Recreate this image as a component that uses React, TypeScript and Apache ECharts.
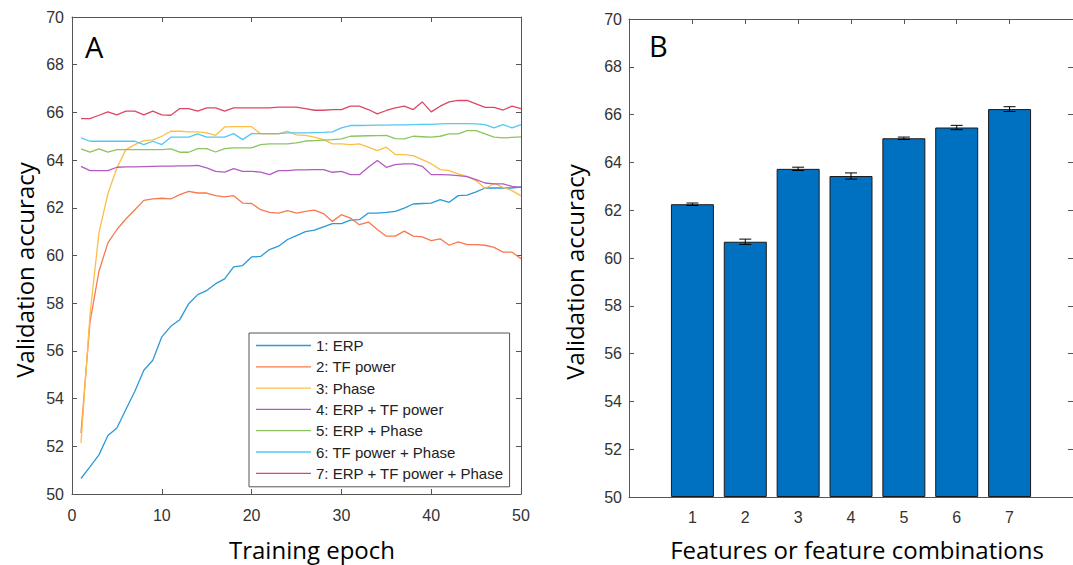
import React, { useEffect, useRef } from "react";
import * as echarts from "echarts";

const epochs = [1,2,3,4,5,6,7,8,9,10,11,12,13,14,15,16,17,18,19,20,21,22,23,24,25,26,27,28,29,30,31,32,33,34,35,36,37,38,39,40,41,42,43,44,45,46,47,48,49,50];

const seriesNames = [
  "1: ERP",
  "2: TF power",
  "3: Phase",
  "4: ERP + TF power",
  "5: ERP + Phase",
  "6: TF power + Phase",
  "7: ERP + TF power + Phase",
];

const erp = [50.65,51.14,51.64,52.45,52.77,53.54,54.31,55.19,55.61,56.59,57.03,57.31,57.98,58.36,58.53,58.82,59.02,59.52,59.58,59.94,59.96,60.25,60.39,60.67,60.83,61.0,61.06,61.2,61.34,61.34,61.48,61.5,61.78,61.78,61.81,61.85,61.99,62.16,62.18,62.2,62.34,62.23,62.51,62.53,62.67,62.83,62.83,62.83,62.83,62.88];
const tfPower = [52.56,57.2,59.34,60.53,61.09,61.53,61.92,62.31,62.37,62.4,62.37,62.55,62.69,62.62,62.62,62.51,62.46,62.51,62.2,62.18,61.92,61.81,61.78,61.88,61.78,61.85,61.9,61.76,61.43,61.71,61.57,61.29,61.4,61.09,60.81,60.81,61.02,60.81,60.78,60.62,60.7,60.43,60.57,60.46,60.46,60.43,60.34,60.14,60.14,59.87];
const phase = [52.14,57.5,60.95,62.6,63.67,64.44,64.65,64.82,64.85,65.0,65.21,65.21,65.18,65.18,65.14,65.04,65.39,65.4,65.4,65.4,65.1,65.1,65.1,65.21,65.06,65.04,64.96,64.86,64.68,64.68,64.65,64.68,64.54,64.4,64.54,64.23,64.23,64.19,64.02,63.85,63.6,63.56,63.42,63.32,63.14,62.81,63.02,62.86,62.72,62.5];
const erpTf = [63.74,63.56,63.56,63.56,63.7,63.72,63.72,63.73,63.74,63.75,63.75,63.76,63.76,63.78,63.67,63.53,63.5,63.64,63.53,63.53,63.5,63.39,63.56,63.56,63.59,63.59,63.6,63.6,63.49,63.53,63.39,63.39,63.7,63.98,63.7,63.81,63.84,63.84,63.74,63.39,63.39,63.38,63.35,63.31,63.18,63.04,63.0,63.0,62.9,62.86];
const erpPhase = [64.47,64.33,64.47,64.33,64.44,64.44,64.44,64.44,64.44,64.44,64.47,64.33,64.33,64.48,64.48,64.34,64.48,64.51,64.51,64.51,64.65,64.68,64.68,64.68,64.72,64.8,64.82,64.84,64.86,64.89,65.0,65.01,65.02,65.03,65.04,64.9,64.89,65.0,64.98,64.96,65.0,65.1,65.1,65.24,65.24,65.1,64.96,64.93,64.95,64.97];
const tfPhase = [64.93,64.79,64.79,64.79,64.79,64.79,64.79,64.65,64.79,64.65,64.96,64.96,64.96,65.1,64.96,64.96,64.96,65.11,64.86,65.11,65.11,65.11,65.11,65.14,65.14,65.14,65.15,65.16,65.18,65.35,65.45,65.45,65.46,65.47,65.47,65.48,65.48,65.49,65.5,65.5,65.52,65.53,65.53,65.53,65.52,65.49,65.35,65.49,65.35,65.49];
const allThree = [65.74,65.74,65.88,66.02,65.9,66.05,66.05,65.9,66.05,65.9,65.88,66.16,66.16,66.05,66.19,66.19,66.05,66.19,66.19,66.19,66.19,66.19,66.22,66.22,66.22,66.16,66.09,66.09,66.12,66.12,66.26,66.26,66.12,65.94,66.08,66.19,66.26,66.12,66.44,66.02,66.26,66.44,66.5,66.5,66.36,66.21,66.21,66.1,66.26,66.16];

const lineValues = [erp, tfPower, phase, erpTf, erpPhase, tfPhase, allThree];
const lineColors = ["#2A9AD8", "#F7794F", "#FDBE48", "#B25CC2", "#8BC55F", "#52C8F2", "#DC4764"];

const barCategories = [1, 2, 3, 4, 5, 6, 7];
const barMeans = [62.25, 60.68, 63.73, 63.43, 65.01, 65.46, 66.23];
const barErrors = [0.05, 0.11, 0.07, 0.13, 0.05, 0.09, 0.1];

const yTicks = [50, 70, 2];
const epochTicks = [0, 50, 10];

const AXIS = "#555555";
const LABEL = "#333333";
const TICK_FONT = "Liberation Sans";
const TITLE_FONT = '"Open Sans"';

function frameAxis(extra: any) {
  return {
    axisLine: { show: true, onZero: false, lineStyle: { color: AXIS, width: 1 } },
    axisTick: { show: true, inside: true, length: 5, lineStyle: { color: AXIS } },
    splitLine: { show: false },
    ...extra,
  };
}

export default function App() {
  const ref = useRef<HTMLDivElement>(null);
  useEffect(() => {
    if (!ref.current) return;
    const chart = echarts.init(ref.current, undefined, { renderer: "svg" });
    const labelStyle = { color: LABEL, fontSize: 16, fontFamily: TICK_FONT };

    const lineSeries = lineValues.map((vals, i) => ({
      name: seriesNames[i],
      type: "line",
      xAxisIndex: 0,
      yAxisIndex: 0,
      symbol: "none",
      showSymbol: false,
      data: epochs.map((e, j) => [e, vals[j]]),
      lineStyle: { color: lineColors[i], width: 1.3 },
      itemStyle: { color: lineColors[i] },
      z: 2 + i,
    }));

    const option: any = {
      animation: false,
      backgroundColor: "#ffffff",
      grid: [
        { left: 72, top: 17, width: 449, height: 477 },
        { left: 629, top: 19, width: 449, height: 478 },
      ],
      xAxis: [
        frameAxis({
          gridIndex: 0, type: "value", position: "bottom",
          min: epochTicks[0], max: epochTicks[1], interval: epochTicks[2],
          axisLabel: { ...labelStyle, margin: 13 },
        }),
        frameAxis({
          gridIndex: 0, type: "value", position: "top",
          min: epochTicks[0], max: epochTicks[1], interval: epochTicks[2],
          axisLabel: { show: false },
        }),
        frameAxis({
          gridIndex: 1, type: "value", position: "bottom",
          min: -0.2, max: 8.2,
          axisLabel: { ...labelStyle, margin: 12, customValues: barCategories },
          axisTick: { show: true, inside: true, length: 5, lineStyle: { color: AXIS }, customValues: barCategories },
        }),
        frameAxis({
          gridIndex: 1, type: "value", position: "top",
          min: -0.2, max: 8.2,
          axisLabel: { show: false, customValues: barCategories },
          axisTick: { show: true, inside: true, length: 5, lineStyle: { color: AXIS }, customValues: barCategories },
        }),
      ],
      yAxis: [
        frameAxis({
          gridIndex: 0, type: "value", position: "left",
          min: yTicks[0], max: yTicks[1], interval: yTicks[2],
          axisLabel: { ...labelStyle, margin: 8 },
        }),
        frameAxis({
          gridIndex: 0, type: "value", position: "right",
          min: yTicks[0], max: yTicks[1], interval: yTicks[2],
          axisLabel: { show: false },
        }),
        frameAxis({
          gridIndex: 1, type: "value", position: "left",
          min: yTicks[0], max: yTicks[1], interval: yTicks[2],
          startValue: yTicks[0],
          axisLabel: { ...labelStyle, margin: 7 },
        }),
        frameAxis({
          gridIndex: 1, type: "value", position: "right",
          min: yTicks[0], max: yTicks[1], interval: yTicks[2],
          axisLabel: { show: false },
        }),
      ],
      legend: {
        data: seriesNames,
        orient: "vertical",
        left: 249,
        top: 333,
        icon: "path://M0,0 L55,0 L55,1.3 L0,1.3 Z",
        itemWidth: 55,
        itemHeight: 14,
        itemGap: 6.3,
        selectedMode: false,
        backgroundColor: "#ffffff",
        borderColor: "#555555",
        borderWidth: 1,
        borderRadius: 0,
        padding: [5, 6, 6, 7],
        textStyle: { color: "#222222", fontSize: 15, fontFamily: TICK_FONT },
        z: 20,
      },
      series: [
        ...lineSeries,
        {
          name: "bars",
          type: "bar",
          xAxisIndex: 2,
          yAxisIndex: 2,
          barWidth: 43,
          clip: true,
          data: barCategories.map((c, i) => [c, barMeans[i]]),
          itemStyle: { color: "#0070C0", borderColor: "#1a1a1a", borderWidth: 1 },
          z: 2,
        },
        {
          name: "errors",
          type: "custom",
          xAxisIndex: 2,
          yAxisIndex: 2,
          data: barCategories.map((c, i) => [c, barMeans[i] - barErrors[i], barMeans[i] + barErrors[i]]),
          renderItem: (params: any, api: any) => {
            const x = api.value(0);
            const lo = api.coord([x, api.value(1)]);
            const hi = api.coord([x, api.value(2)]);
            const w = 6;
            const st = { stroke: "#000000", lineWidth: 1 };
            return {
              type: "group",
              children: [
                { type: "line", shape: { x1: lo[0], y1: lo[1], x2: hi[0], y2: hi[1] }, style: st },
                { type: "line", shape: { x1: lo[0] - w, y1: lo[1], x2: lo[0] + w, y2: lo[1] }, style: st },
                { type: "line", shape: { x1: hi[0] - w, y1: hi[1], x2: hi[0] + w, y2: hi[1] }, style: st },
              ],
            };
          },
          z: 5,
        },
      ],
      graphic: [
        { type: "text", x: 85, y: 46, style: { text: "A", font: `29px ${TITLE_FONT}`, fill: "#000", textAlign: "left", textVerticalAlign: "middle" } },
        { type: "text", x: 649, y: 45, style: { text: "B", font: `29px ${TITLE_FONT}`, fill: "#000", textAlign: "left", textVerticalAlign: "middle" } },
        { type: "text", x: 24, y: 270, rotation: Math.PI / 2, style: { text: "Validation accuracy", font: `24px ${TITLE_FONT}`, fill: "#000", textAlign: "center", textVerticalAlign: "middle" } },
        { type: "text", x: 574, y: 272, rotation: Math.PI / 2, style: { text: "Validation accuracy", font: `24px ${TITLE_FONT}`, fill: "#000", textAlign: "center", textVerticalAlign: "middle" } },
        { type: "text", x: 312, y: 549, style: { text: "Training epoch", font: `24px ${TITLE_FONT}`, fill: "#000", textAlign: "center", textVerticalAlign: "middle" } },
        { type: "text", x: 857, y: 549, style: { text: "Features or feature combinations", font: `24px ${TITLE_FONT}`, fill: "#000", textAlign: "center", textVerticalAlign: "middle" } },
      ],
    };
    chart.setOption(option);
    return () => chart.dispose();
  }, []);
  return (
    <div
      ref={ref}
      style={{ position: "absolute", left: 0, top: 0, width: 1073, height: 565, background: "#fff" }}
    />
  );
}
